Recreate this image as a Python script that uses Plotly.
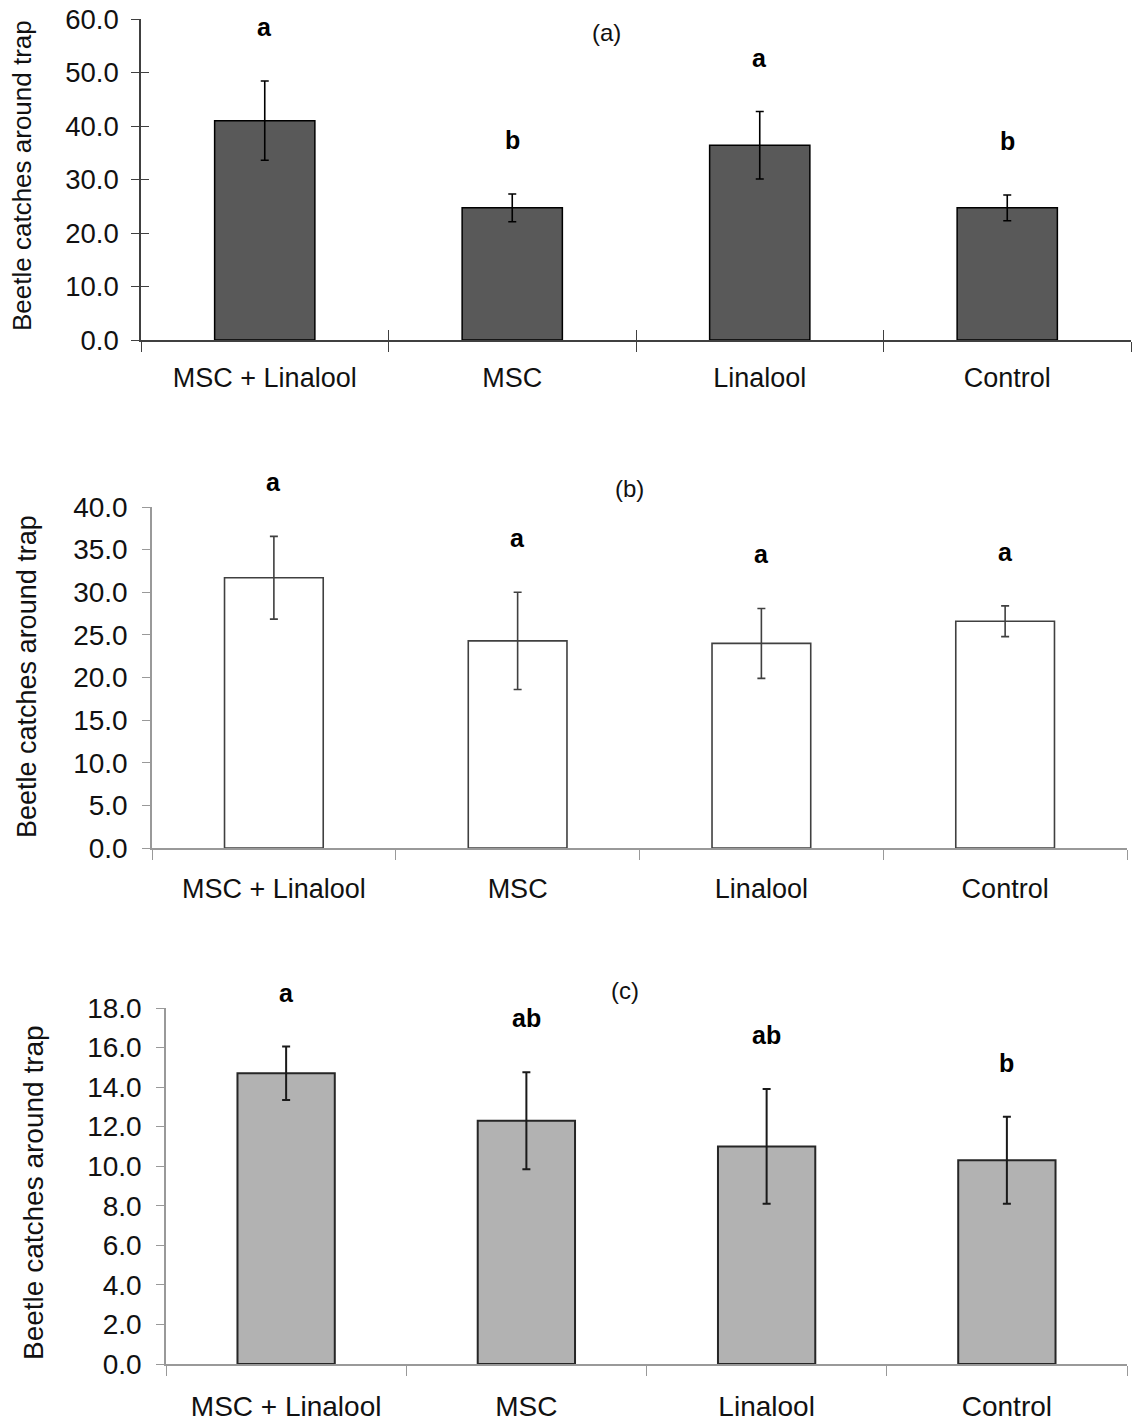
import plotly.graph_objects as go

categories = ["MSC + Linalool", "MSC", "Linalool", "Control"]

a_means = [41.0, 24.7, 36.4, 24.7]
a_err = [7.4, 2.6, 6.3, 2.4]
a_letters = ["a", "b", "a", "b"]

b_means = [31.7, 24.3, 24.0, 26.6]
b_err = [4.85, 5.7, 4.1, 1.8]
b_letters = ["a", "a", "a", "a"]

c_means = [14.7, 12.3, 11.0, 10.3]
c_err = [1.35, 2.45, 2.9, 2.2]
c_letters = ["a", "ab", "ab", "b"]

a_ticks = [0, 10, 20, 30, 40, 50, 60]
b_ticks = [0, 5, 10, 15, 20, 25, 30, 35, 40]
c_ticks = [0, 2, 4, 6, 8, 10, 12, 14, 16, 18]

FONT = "Arial, 'Liberation Sans', sans-serif"
W, H = 1144, 1423


def px(x):
    return x / W


def py(y):
    return 1 - y / H


fig = go.Figure()

panels = [
    dict(means=a_means, err=a_err, letters=a_letters, ticks=a_ticks, fill="#595959",
         line="#000000", lw=1.5, ecol="#000000", ew=1.6, xs="x", ys="y",
         xdom=[px(141), px(1131)], ydom=[py(340), py(19)], axcol="#404040",
         fs=27.5, xfs=27, tfs=26, ystand=7, xstand=13,
         title_x=22, title_y=176, label="(a)", lab_x=606, lab_y=33),
    dict(means=b_means, err=b_err, letters=b_letters, ticks=b_ticks, fill="#ffffff",
         line="#404040", lw=1.6, ecol="#404040", ew=1.6, xs="x2", ys="y2",
         xdom=[px(152), px(1127)], ydom=[py(848), py(507)], axcol="#999999",
         fs=28, xfs=27, tfs=27, ystand=9, xstand=16,
         title_x=27, title_y=677, label="(b)", lab_x=629, lab_y=489),
    dict(means=c_means, err=c_err, letters=c_letters, ticks=c_ticks, fill="#b2b2b2",
         line="#262626", lw=2, ecol="#1a1a1a", ew=2, xs="x3", ys="y3",
         xdom=[px(166), px(1127)], ydom=[py(1364), py(1008)], axcol="#999999",
         fs=28, xfs=28, tfs=28, ystand=9, xstand=17,
         title_x=33, title_y=1193, label="(c)", lab_x=625, lab_y=990),
]

annotations = []
for i, p in enumerate(panels):
    fig.add_trace(go.Bar(
        x=categories, y=p["means"], width=0.405,
        marker=dict(color=p["fill"], line=dict(color=p["line"], width=p["lw"])),
        error_y=dict(type="data", array=p["err"], visible=True, color=p["ecol"],
                     thickness=p["ew"], width=4),
        xaxis=p["xs"], yaxis=p["ys"], showlegend=False, hoverinfo="skip"))
    sfx = "" if i == 0 else str(i + 1)
    fig.layout["xaxis" + sfx] = dict(
        domain=p["xdom"], anchor=p["ys"], type="category", automargin=False,
        categoryorder="array", categoryarray=categories, range=[-0.5, 3.5],
        tickson="boundaries", ticks="outside", ticklen=10, tickwidth=1.3,
        tickcolor=p["axcol"], showline=True, linecolor=p["axcol"], linewidth=1.5,
        showgrid=False, zeroline=False, ticklabelstandoff=p["xstand"],
        tickfont=dict(family=FONT, size=p["xfs"], color="#111111"))
    fig.layout["yaxis" + sfx] = dict(
        domain=p["ydom"], anchor=p["xs"], range=[0, p["ticks"][-1]], automargin=False,
        tickvals=p["ticks"], ticktext=["%.1f" % t for t in p["ticks"]],
        ticks="outside", ticklen=8, tickwidth=1.3, tickcolor=p["axcol"],
        showline=True, linecolor=p["axcol"], linewidth=1.5, showgrid=False,
        zeroline=False, ticklabelstandoff=p["ystand"],
        tickfont=dict(family=FONT, size=p["fs"], color="#111111"))
    for cat, m, e, let in zip(categories, p["means"], p["err"], p["letters"]):
        annotations.append(dict(
            x=cat, y=m + e, xref=p["xs"], yref=p["ys"], text="<b>%s</b>" % let,
            showarrow=False, yanchor="middle", yshift=54,
            font=dict(family=FONT, size=25, color="#000000")))
    annotations.append(dict(
        x=px(p["title_x"]), y=py(p["title_y"]), xref="paper", yref="paper",
        text="Beetle catches around trap", textangle=-90, showarrow=False,
        xanchor="center", yanchor="middle",
        font=dict(family=FONT, size=p["tfs"], color="#111111")))
    annotations.append(dict(
        x=px(p["lab_x"]), y=py(p["lab_y"]), xref="paper", yref="paper",
        text=p["label"], showarrow=False, xanchor="center", yanchor="middle",
        font=dict(family=FONT, size=24, color="#111111")))

# crossing tick marks for panel (a)
fig.add_trace(go.Scatter(x=[], y=[], xaxis="x4", yaxis="y4", showlegend=False))
fig.layout["xaxis4"] = dict(
    overlaying="x", anchor="y", range=[-0.5, 3.5], automargin=False,
    tickvals=[-0.5, 0.5, 1.5, 2.5, 3.5], ticks="inside", ticklen=10, tickwidth=1.3,
    tickcolor="#404040", showticklabels=False, showline=False, showgrid=False,
    zeroline=False)
fig.layout["yaxis4"] = dict(
    overlaying="y", anchor="x", range=[0, 60], tickvals=a_ticks, ticks="inside",
    automargin=False,
    ticklen=8, tickwidth=1.3, tickcolor="#404040", showticklabels=False,
    showline=False, showgrid=False, zeroline=False)

fig.update_layout(
    width=W, height=H, margin=dict(l=0, r=0, t=0, b=0, autoexpand=False),
    paper_bgcolor="white", plot_bgcolor="white",
    annotations=annotations, bargap=0.6,
    font=dict(family=FONT))

fig.write_html(
    "out.html",
    config={"displayModeBar": False},
    post_script="document.body.style.margin='0';document.body.style.overflow='hidden';")
